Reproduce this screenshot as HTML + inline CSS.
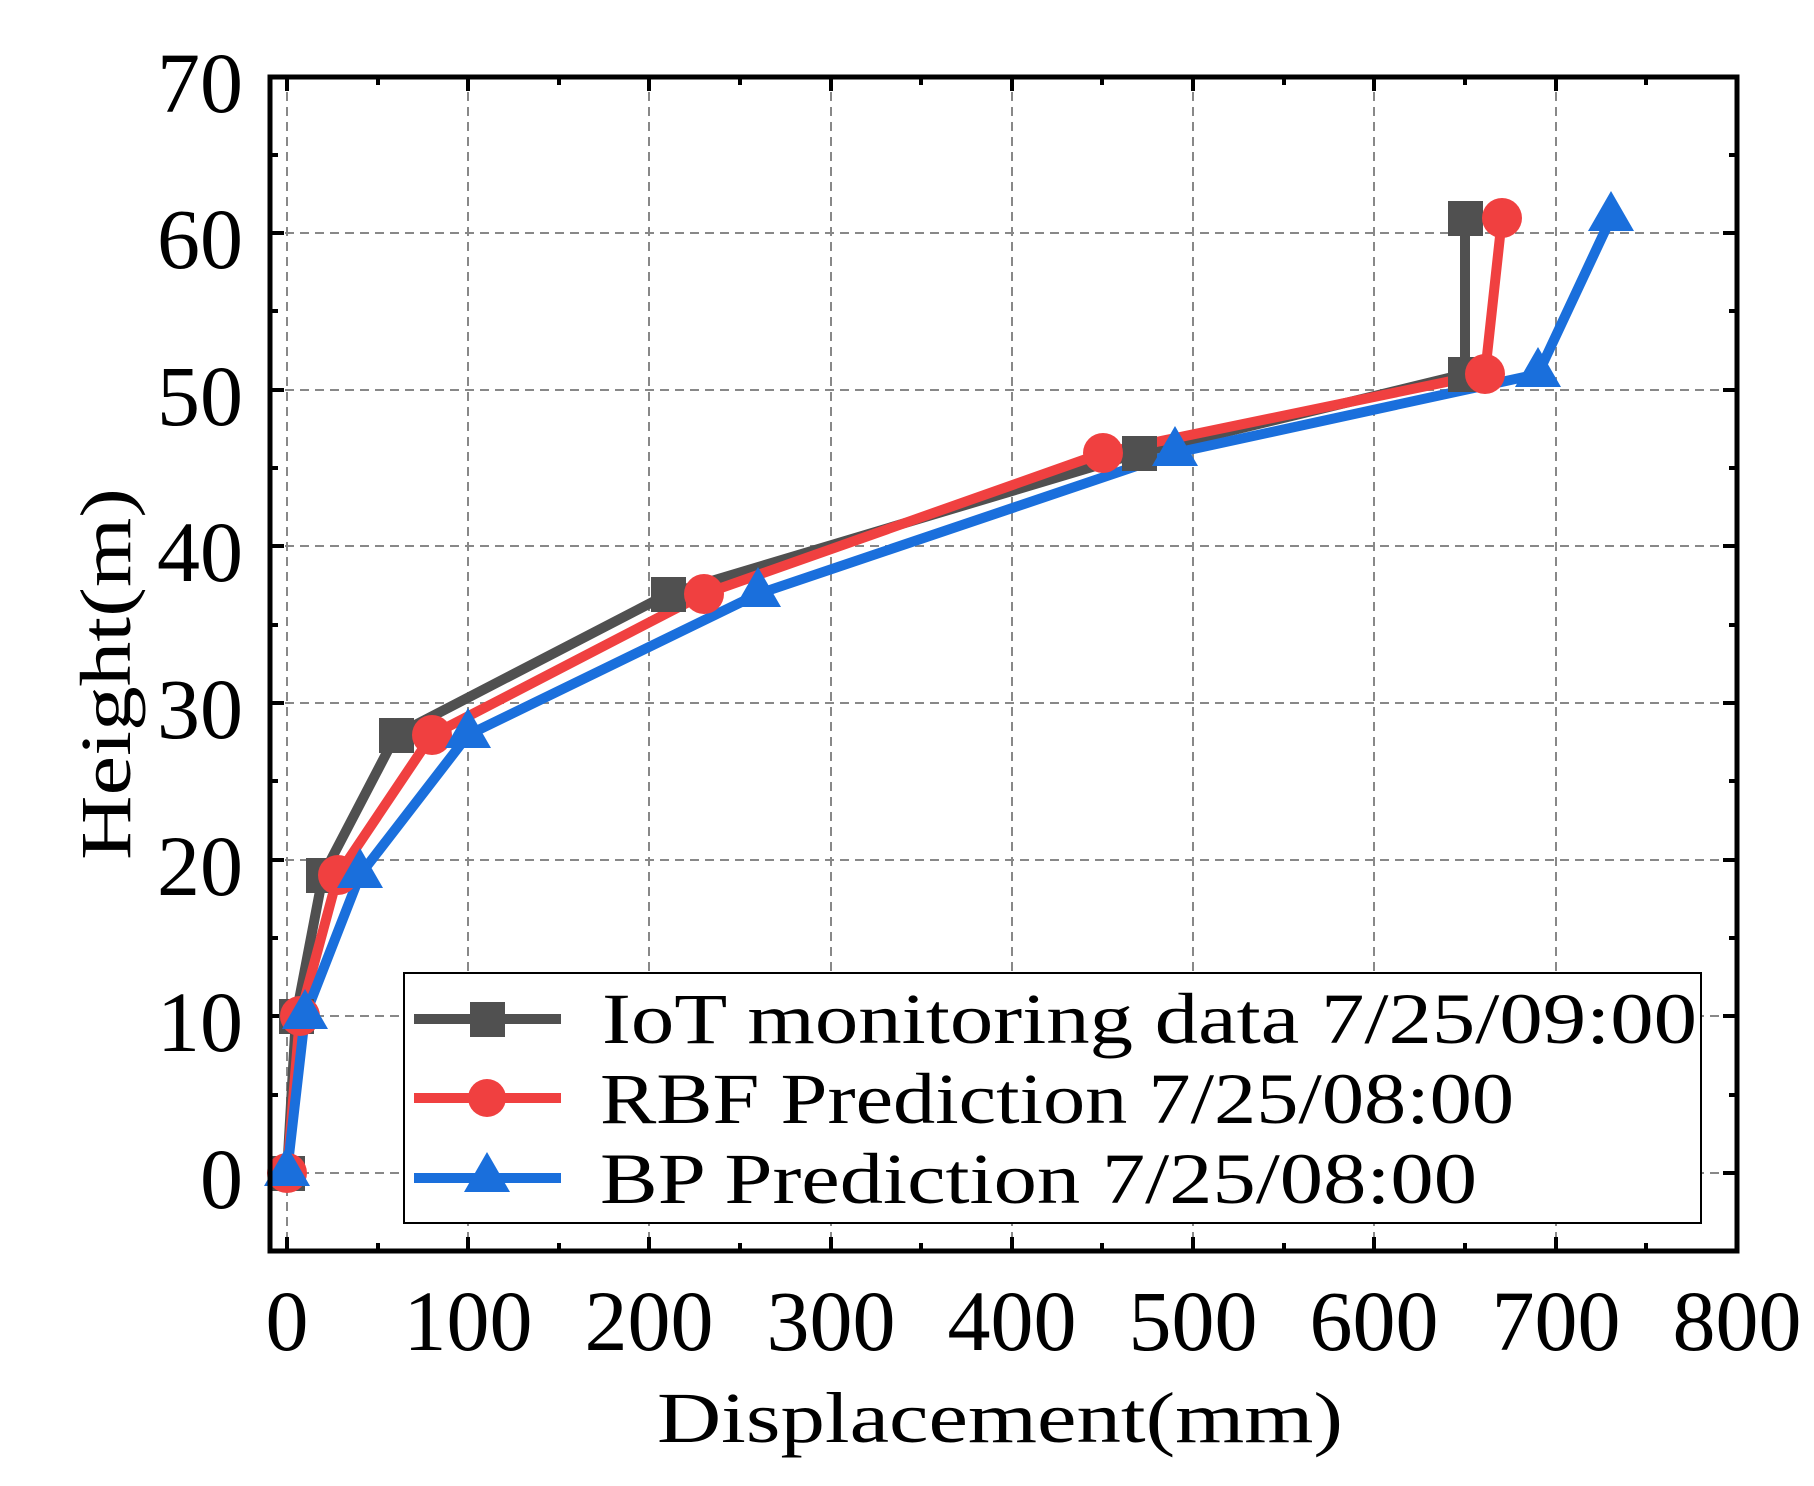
<!DOCTYPE html>
<html><head><meta charset="utf-8"><style>html,body{margin:0;padding:0;background:#fff}</style></head>
<body>
<svg width="1814" height="1481" xmlns="http://www.w3.org/2000/svg">
<defs><clipPath id="c"><rect x="270" y="77" width="1467" height="1174"/></clipPath></defs>
<g stroke="#888" stroke-width="2" stroke-dasharray="9,6">
<line x1="287" y1="77" x2="287" y2="1251"/><line x1="468" y1="77" x2="468" y2="1251"/><line x1="649" y1="77" x2="649" y2="1251"/><line x1="831" y1="77" x2="831" y2="1251"/><line x1="1012" y1="77" x2="1012" y2="1251"/><line x1="1193" y1="77" x2="1193" y2="1251"/><line x1="1374" y1="77" x2="1374" y2="1251"/><line x1="1556" y1="77" x2="1556" y2="1251"/>
<line x1="270" y1="1173" x2="1737" y2="1173"/><line x1="270" y1="1016" x2="1737" y2="1016"/><line x1="270" y1="860" x2="1737" y2="860"/><line x1="270" y1="703" x2="1737" y2="703"/><line x1="270" y1="546" x2="1737" y2="546"/><line x1="270" y1="390" x2="1737" y2="390"/><line x1="270" y1="233" x2="1737" y2="233"/>
</g>
<g stroke="#000" stroke-width="4">
<path d="M287 1251v-14M468 1251v-14M649 1251v-14M831 1251v-14M1012 1251v-14M1193 1251v-14M1374 1251v-14M1556 1251v-14M378 1251v-8M559 1251v-8M740 1251v-8M921 1251v-8M1102 1251v-8M1284 1251v-8M1465 1251v-8M1646 1251v-8"/>
<path d="M287 77v14M468 77v14M649 77v14M831 77v14M1012 77v14M1193 77v14M1374 77v14M1556 77v14M378 77v8M559 77v8M740 77v8M921 77v8M1102 77v8M1284 77v8M1465 77v8M1646 77v8"/>
<path d="M270 1173h14M270 1016h14M270 860h14M270 703h14M270 546h14M270 390h14M270 233h14M270 1095h8M270 938h8M270 781h8M270 625h8M270 468h8M270 311h8M270 155h8"/>
<path d="M1737 1173h-14M1737 1016h-14M1737 860h-14M1737 703h-14M1737 546h-14M1737 390h-14M1737 233h-14M1737 1095h-8M1737 938h-8M1737 781h-8M1737 625h-8M1737 468h-8M1737 311h-8M1737 155h-8"/>
</g>
<g clip-path="url(#c)" stroke-width="10" fill="none" stroke-linejoin="round">
<polyline stroke="#505050" points="287,1173 296,1016 323,875 396,735 668,594 1139,453 1465,374 1465,218"/>
<polyline stroke="#f04040" points="287,1173 300,1016 338,875 432,735 704,594 1103,453 1485,374 1502,218"/>
<polyline stroke="#1a6fdc" points="287,1173 305,1016 360,875 468,735 758,594 1175,453 1538,374 1611,218"/>
</g>
<g fill="#505050">
<rect x="270" y="1156" width="35" height="35"/><rect x="279" y="999" width="35" height="35"/><rect x="306" y="858" width="35" height="35"/><rect x="379" y="718" width="35" height="35"/><rect x="651" y="577" width="35" height="35"/><rect x="1122" y="436" width="35" height="35"/><rect x="1448" y="357" width="35" height="35"/><rect x="1448" y="201" width="35" height="35"/>
</g>
<g fill="#f04040">
<circle cx="287" cy="1173" r="20"/><circle cx="300" cy="1016" r="20"/><circle cx="338" cy="875" r="20"/><circle cx="432" cy="735" r="20"/><circle cx="704" cy="594" r="20"/><circle cx="1103" cy="453" r="20"/><circle cx="1485" cy="374" r="20"/><circle cx="1502" cy="218" r="20"/>
</g>
<g fill="#1a6fdc">
<path d="M287 1146l23 40h-46z"/><path d="M305 989l23 40h-46z"/><path d="M360 848l23 40h-46z"/><path d="M468 708l23 40h-46z"/><path d="M758 567l23 40h-46z"/><path d="M1175 426l23 40h-46z"/><path d="M1538 347l23 40h-46z"/><path d="M1611 191l23 40h-46z"/>
</g>
<rect x="270" y="77" width="1467" height="1174" fill="none" stroke="#000" stroke-width="5"/>
<rect x="404" y="973" width="1297" height="250" fill="#fff" stroke="#000" stroke-width="2"/>
<line x1="414" y1="1019" x2="561" y2="1019" stroke="#505050" stroke-width="10"/><rect x="470" y="1002" width="35" height="35" fill="#505050"/>
<line x1="414" y1="1098" x2="561" y2="1098" stroke="#f04040" stroke-width="10"/><circle cx="487" cy="1098" r="19" fill="#f04040"/>
<line x1="414" y1="1178" x2="561" y2="1178" stroke="#1a6fdc" stroke-width="10"/><path d="M487 1152l23 40h-46z" fill="#1a6fdc"/>
<g font-family="Liberation Serif, serif" font-size="72" fill="#000">
<text x="602" y="1043" textLength="1095" lengthAdjust="spacingAndGlyphs">IoT monitoring data 7/25/09:00</text>
<text x="600" y="1123" textLength="914" lengthAdjust="spacingAndGlyphs">RBF Prediction 7/25/08:00</text>
<text x="600" y="1203" textLength="877" lengthAdjust="spacingAndGlyphs">BP Prediction 7/25/08:00</text>
<text x="1000" y="1442" text-anchor="middle" textLength="686" lengthAdjust="spacingAndGlyphs">Displacement(mm)</text>
<text transform="translate(130,674) rotate(-90)" text-anchor="middle" textLength="372" lengthAdjust="spacingAndGlyphs">Height(m)</text>
</g>
<g font-family="Liberation Serif, serif" font-size="86" fill="#000" text-anchor="middle">
<text x="287" y="1350">0</text><text x="468" y="1350">100</text><text x="649" y="1350">200</text><text x="831" y="1350">300</text><text x="1012" y="1350">400</text><text x="1193" y="1350">500</text><text x="1374" y="1350">600</text><text x="1556" y="1350">700</text><text x="1737" y="1350">800</text>
</g>
<g font-family="Liberation Serif, serif" font-size="86" fill="#000" text-anchor="end">
<text x="243" y="1208">0</text><text x="243" y="1051">10</text><text x="243" y="895">20</text><text x="243" y="738">30</text><text x="243" y="581">40</text><text x="243" y="425">50</text><text x="243" y="268">60</text><text x="243" y="112">70</text>
</g>
</svg>
</body></html>
